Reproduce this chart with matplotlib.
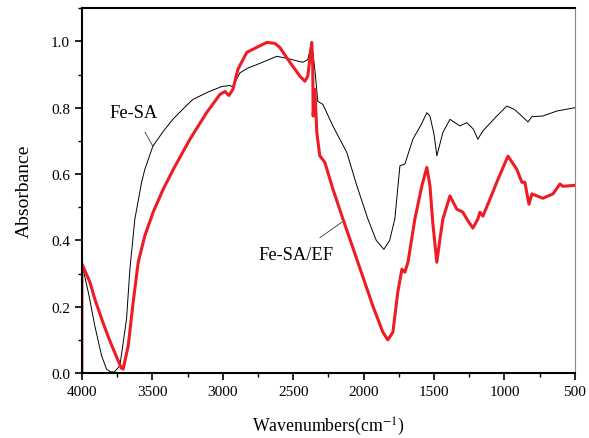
import matplotlib
matplotlib.use("Agg")
import matplotlib.pyplot as plt
from matplotlib.ticker import MultipleLocator, FormatStrFormatter

plt.rcParams['font.family'] = ['Liberation Serif', 'DejaVu Serif']
plt.rcParams['mathtext.fontset'] = 'stix'

# Fe-SA (black, thin)
fesa_x = [4000, 3950, 3908, 3860, 3825, 3801, 3770, 3730, 3683, 3659, 3624, 3576, 3553, 3496,
          3420, 3354, 3280, 3212, 3100, 3006, 2949, 2930, 2878, 2820, 2758, 2690, 2616, 2545,
          2480, 2431, 2396, 2368, 2346, 2325, 2289, 2218, 2119, 2048, 1970, 1910, 1856, 1815,
          1778, 1742, 1707, 1650, 1590, 1551, 1529, 1500, 1480, 1437, 1387, 1316, 1267, 1220,
          1189, 1153, 1054, 983, 930, 890, 833, 805, 727, 628, 500]
fesa_y = [0.33, 0.235, 0.142, 0.052, 0.012, 0.004, 0.003, 0.022, 0.163, 0.313, 0.464, 0.575, 0.614, 0.684,
          0.73, 0.765, 0.797, 0.825, 0.848, 0.864, 0.867, 0.863, 0.905, 0.92, 0.93, 0.942, 0.955, 0.949,
          0.942, 0.937, 0.945, 0.997, 0.915, 0.819, 0.81, 0.745, 0.665, 0.565, 0.465, 0.40, 0.373, 0.40,
          0.465, 0.625, 0.63, 0.705, 0.75, 0.785, 0.775, 0.72, 0.655, 0.725, 0.765, 0.745, 0.755, 0.735,
          0.705, 0.73, 0.775, 0.805, 0.795, 0.78, 0.757, 0.773, 0.775, 0.79, 0.80]

# Fe-SA/EF (red, thick)
fesaef_x = [4000, 4000, 3943, 3908, 3851, 3815, 3787, 3742, 3720, 3707, 3671, 3636, 3600, 3553,
            3494, 3423, 3351, 3233, 3113, 3020, 2985, 2956, 2928, 2892, 2829, 2758, 2687, 2630,
            2595, 2523, 2452, 2417, 2396, 2368, 2361, 2358, 2346, 2332, 2311, 2275, 2218, 2147,
            2048, 1934, 1863, 1828, 1792, 1757, 1728, 1707, 1685, 1636, 1586, 1551, 1529, 1508,
            1480, 1458, 1437, 1387, 1338, 1295, 1267, 1224, 1189, 1174, 1153, 1103, 1046, 975,
            912, 876, 855, 826, 805, 727, 656, 606, 585, 500]
fesaef_y = [0.0, 0.33, 0.274, 0.223, 0.153, 0.112, 0.082, 0.037, 0.015, 0.012, 0.082, 0.213, 0.334, 0.414,
            0.485, 0.554, 0.614, 0.705, 0.786, 0.84, 0.849, 0.837, 0.855, 0.916, 0.967, 0.982, 0.997, 0.994,
            0.982, 0.937, 0.895, 0.88, 0.895, 0.997, 0.925, 0.775, 0.855, 0.725, 0.655, 0.635, 0.555, 0.465,
            0.343, 0.202, 0.123, 0.10, 0.123, 0.244, 0.313, 0.304, 0.334, 0.464, 0.565, 0.62, 0.565, 0.45,
            0.334, 0.404, 0.464, 0.534, 0.494, 0.485, 0.464, 0.437, 0.464, 0.485, 0.473, 0.524, 0.584, 0.654,
            0.614, 0.575, 0.575, 0.509, 0.54, 0.527, 0.54, 0.57, 0.563, 0.566]

fig = plt.figure(figsize=(5.89, 4.39), dpi=100)
ax = fig.add_axes([0.139, 0.148, 0.837, 0.831])

ax.plot(fesa_x, fesa_y, color='black', lw=0.7)
ax.plot(fesaef_x, fesaef_y, color='#ee1c24', lw=2.2)

ax.set_xlim(4000, 500)
ax.set_ylim(0, 1.1)
ax.xaxis.set_major_locator(MultipleLocator(500))
ax.xaxis.set_minor_locator(MultipleLocator(250))
ax.yaxis.set_major_locator(MultipleLocator(0.2))
ax.yaxis.set_minor_locator(MultipleLocator(0.1))
ax.tick_params(which='major', direction='out', length=5, width=1.2, labelsize=11)
ax.tick_params(which='minor', direction='out', length=3, width=1.0)
ax.tick_params(top=False, right=False)
ax.yaxis.set_major_formatter(FormatStrFormatter('%.1f'))

for s in ['left', 'bottom', 'top']:
    ax.spines[s].set_linewidth(1.5)
ax.spines['right'].set_linewidth(0.8)
ax.spines['right'].set_color('#888888')

ax.set_xlabel('Wavenumbers(cm$^{-1}$)', fontsize=12.8, labelpad=12)
ax.set_ylabel('Absorbance', fontsize=14, labelpad=13)

ax.annotate('Fe-SA', xy=(3496, 0.684), xytext=(3631, 0.786), fontsize=13.3,
            ha='center', va='center',
            arrowprops=dict(arrowstyle='-', color='#333333', lw=0.6, shrinkA=7, shrinkB=0))
ax.annotate('Fe-SA/EF', xy=(2154, 0.455), xytext=(2480, 0.357), fontsize=13.3,
            ha='center', va='center',
            arrowprops=dict(arrowstyle='-', color='#333333', lw=0.6, shrinkA=7, shrinkB=0))

fig.savefig('out.png', dpi=100)
